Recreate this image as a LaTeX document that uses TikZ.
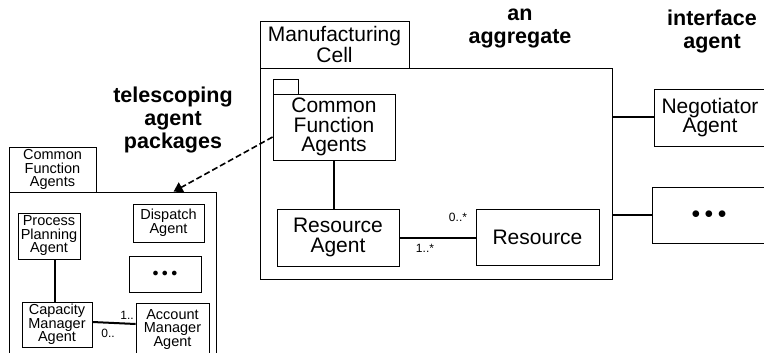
\documentclass[tikz,border=0pt]{standalone}
\usepackage{fontspec}
\setmainfont{Liberation Sans}
\usepackage{tikz}
\usetikzlibrary{arrows,arrows.meta,positioning,calc}
\tikzstyle{box}=[rectangle, draw=black, line width=0.8pt, inner sep=0pt, align=center, font=\fontsize{21}{19.5}\selectfont]
\tikzstyle{sbox}=[box, font=\fontsize{14.5}{13.5}\selectfont]
\tikzstyle{conn}=[draw=black, line width=2pt]
\tikzstyle{mult}=[font=\fontsize{12}{12}\selectfont, inner sep=0pt]
\tikzstyle{lab}=[align=center, font=\bfseries\fontsize{21.5}{23}\selectfont]
\newcommand{\threedots}[2]{{\fontsize{#1}{#1}\selectfont$\bullet$\hspace{#2}$\bullet$\hspace{#2}$\bullet$}}

\begin{document}
\begin{tikzpicture}[x=1pt, y=-1pt]
        \clip (0,0) rectangle (764,353);
        %
        % manufacturing cell package
        \node at (334.5,44.5) [box, minimum width=149pt, minimum height=47pt] (mctab) {Manufacturing\\Cell};
        \node at (436,173.5) [box, minimum width=352pt, minimum height=211pt] (mcbody) {};
        \node at (285.5,86.5) [box, minimum width=25pt, minimum height=15pt] (cfatab) {};
        \node at (334,127) [box, minimum width=122pt, minimum height=66pt] (cfa) {Common\\Function\\Agents};
        \node at (338,237.5) [box, minimum width=122pt, minimum height=57pt] (ra) {Resource\\Agent};
        \node at (537.5,237) [box, minimum width=123pt, minimum height=56pt] (res) {Resource};
        \draw[conn] (cfa.south) -- (cfa.south |- ra.north);
        \draw[conn] (ra.east) -- (ra.east -| res.west);
        \node at (458,217) [mult] (m1) {0..*};
        \node at (425,248) [mult] (m2) {1..*};
        %
        % interface agents
        \node at (710,117.5) [box, minimum width=112pt, minimum height=57pt] (neg) {Negotiator\\Agent};
        \node at (709,215) [box, minimum width=114pt, minimum height=56pt] (more) {\threedots{17}{4.5pt}};
        \draw[conn] (mcbody.east |- neg) -- (neg.west);
        \draw[conn] (mcbody.east |- more) -- (more.west);
        %
        % telescoped package
        \node at (52.5,169.5) [sbox, minimum width=87pt, minimum height=45pt] (ltab) {Common\\Function\\Agents};
        \node at (112.5,276) [box, minimum width=207pt, minimum height=168pt] (lbody) {};
        \node at (49,236) [sbox, minimum width=62pt, minimum height=46pt] (ppa) {Process\\Planning\\Agent};
        \node at (168.5,223) [sbox, minimum width=71pt, minimum height=38pt] (disp) {Dispatch\\Agent};
        \node at (165,274) [sbox, minimum width=72pt, minimum height=36pt] (ldots) {\threedots{13}{3.5pt}};
        \node at (57,324.5) [sbox, minimum width=70pt, minimum height=45pt] (cma) {Capacity\\Manager\\Agent};
        \node at (172.5,329.5) [sbox, minimum width=73pt, minimum height=53pt] (ama) {Account\\Manager\\Agent};
        \draw[conn] ([xshift=6pt]ppa.south) -- ([xshift=-2pt]cma.north);
        \draw[conn] ([yshift=2.5pt]cma.east) -- ([yshift=5.5pt]ama.west);
        \node at (127,315) [mult] (m3) {1..};
        \node at (108,333) [mult] (m4) {0..};
        %
        \draw[line width=1.6pt, dash pattern=on 6pt off 3pt, -{Triangle[width=11pt,length=9pt]}] ([yshift=-10pt]cfa.west) -- ([xshift=165pt]lbody.north west);
        %
        \node at (173,120) [lab] (tele) {telescoping\\agent\\packages};
        \node at (520,28.5) [lab] (aggr) {an\\aggregate};
        \node at (712,31) [lab] (iface) {interface\\agent};
      \end{tikzpicture}
\end{document}
